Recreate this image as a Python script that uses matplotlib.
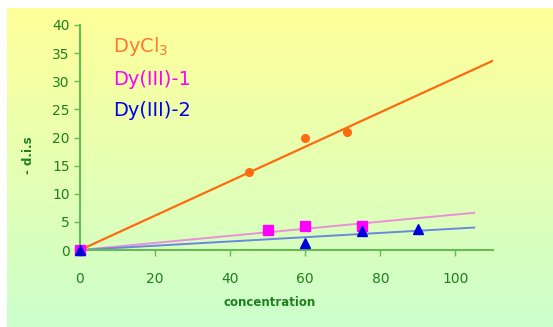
import numpy as np
import matplotlib
matplotlib.use("Agg")
import matplotlib.pyplot as plt
from matplotlib.colors import LinearSegmentedColormap

# data
dycl3_x = [0, 45, 60, 71]
dycl3_y = [0, 13.8, 19.9, 20.9]
dy1_x = [0, 50, 60, 75]
dy1_y = [0, 3.5, 4.3, 4.3]
dy2_x = [0, 60, 75, 90]
dy2_y = [0, 1.2, 3.3, 3.8]
fit_x = [0, 110]
fit_x_small = [0, 105]
dycl3_slope = 0.306
dy1_slope = 0.063
dy2_slope = 0.038
xticks = [0, 20, 40, 60, 80, 100]
yticks = [0, 5, 10, 15, 20, 25, 30, 35, 40]

W, H = 553, 327
fig = plt.figure(figsize=(W/100, H/100), dpi=100)
fig.patch.set_facecolor("white")

# gradient background
bg = fig.add_axes([7/W, 0, 1 - 7/W, 1 - 8/H], zorder=0)
cmap = LinearSegmentedColormap.from_list("bg", ["#FFFF99", "#CCFFCC"])
grad = np.linspace(0, 1, 256).reshape(-1, 1)
bg.imshow(grad, aspect="auto", cmap=cmap, extent=[0, 1, 0, 1])
bg.set_axis_off()

green = "#1F7F1F"
spine_green = "#66BB55"
ax = fig.add_axes([80/W, 1 - 250/H, 413/W, 225/H], zorder=1)
ax.patch.set_alpha(0)
ax.set_xlim(0, 110)
ax.set_ylim(0, 40)
for s in ["top", "right"]:
    ax.spines[s].set_visible(False)
for s in ["left", "bottom"]:
    ax.spines[s].set_color(spine_green)
    ax.spines[s].set_linewidth(1.5)
ax.set_xticks(xticks)
ax.set_yticks(yticks)
ax.tick_params(colors=spine_green, labelcolor=green, labelsize=10, length=4, width=1)
ax.tick_params(axis="x", pad=12)

fx = np.array(fit_x)
fxs = np.array(fit_x_small)
ax.plot(fx, dycl3_slope * fx, color="#FF6A10", lw=1.6, zorder=2)
ax.plot(fxs, dy1_slope * fxs, color="#E890D8", lw=1.4, zorder=2)
ax.plot(fxs, dy2_slope * fxs, color="#6A88DD", lw=1.4, zorder=2)
ax.plot(dycl3_x, dycl3_y, "o", color="#FF6A10", ms=5.5, zorder=3, clip_on=False)
ax.plot(dy1_x, dy1_y, "s", color="#FF00FF", ms=6.5, zorder=3, clip_on=False)
ax.plot(dy2_x, dy2_y, "^", color="#0000DD", ms=6.5, zorder=4, clip_on=False)

fig.text(113/W, 1 - 47/H, "DyCl$_3$", color="#FF7733", fontsize=14, va="center", ha="left")
fig.text(113/W, 1 - 80/H, "Dy(III)-1", color="#FF00FF", fontsize=14, va="center", ha="left")
fig.text(113/W, 1 - 110/H, "Dy(III)-2", color="#0000EE", fontsize=14, va="center", ha="left")

fig.text(28/W, 1 - 155/H, "- d.i.s", color=green, fontsize=8.5, fontweight="bold",
         rotation=90, va="center", ha="center")
fig.text(270/W, 1 - 302/H, "concentration", color=green, fontsize=8.5, fontweight="bold",
         va="center", ha="center")

fig.savefig("out.png", dpi=100)
